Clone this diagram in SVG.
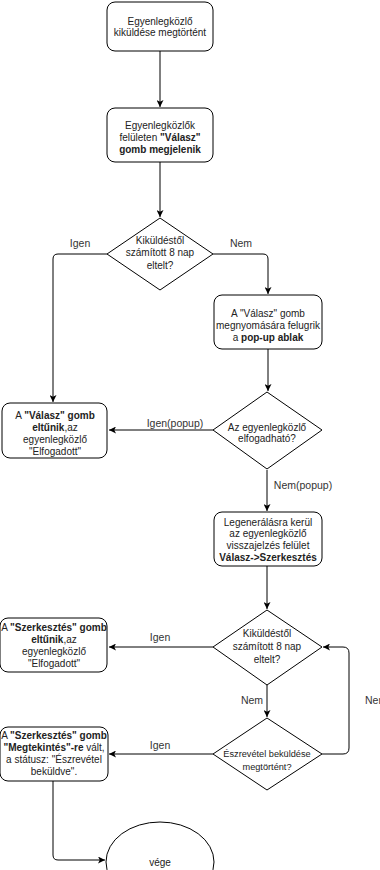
<svg xmlns="http://www.w3.org/2000/svg" width="380" height="870" viewBox="0 0 380 870">
<style>
.n{fill:#fff;stroke:#000;stroke-width:1}
.c{fill:none;stroke:#000;stroke-width:1}
text{font-family:"Liberation Sans",Arial,sans-serif;font-size:10px;fill:#222;text-anchor:middle}
.b{font-weight:bold}
.l{font-size:10.5px;fill:#333}
.s{font-size:9.2px}
</style>
<defs>
<marker id="a" viewBox="0 0 10 10" refX="10" refY="5" markerWidth="7" markerHeight="7" orient="auto" markerUnits="userSpaceOnUse">
<path d="M0,0 L10,5 L0,10 L2.5,5 Z" fill="#000"/>
</marker>
</defs>
<rect width="380" height="870" fill="#fff"/>
<g id="connectors">
<path class="c" d="M160,51 V107" marker-end="url(#a)"/>
<path class="c" d="M160,162 V217" marker-end="url(#a)"/>
<path class="c" d="M107,254 H58 Q53,254 53,259 V402" marker-end="url(#a)"/>
<path class="c" d="M213,254 H263 Q268,254 268,259 V294" marker-end="url(#a)"/>
<path class="c" d="M268,349 V391" marker-end="url(#a)"/>
<path class="c" d="M213,430 H109" marker-end="url(#a)"/>
<path class="c" d="M267,470 V511" marker-end="url(#a)"/>
<path class="c" d="M267,566 V609" marker-end="url(#a)"/>
<path class="c" d="M213,647 H109" marker-end="url(#a)"/>
<path class="c" d="M267,685 V717" marker-end="url(#a)"/>
<path class="c" d="M213,754 H109" marker-end="url(#a)"/>
<path class="c" d="M322,754 H343 Q349,754 349,748 V653 Q349,647 343,647 H323" marker-end="url(#a)"/>
<path class="c" d="M53,781 V855 Q53,860 58,860 H105" marker-end="url(#a)"/>
<text class="l" x="80" y="246.5">Igen</text>
<text class="l" x="241" y="246.5">Nem</text>
<text class="l" x="175" y="426.5">Igen(popup)</text>
<text class="l" x="303" y="489">Nem(popup)</text>
<text class="l" x="160" y="640.5">Igen</text>
<text class="l" x="252" y="703.5">Nem</text>
<text class="l" x="365" y="703.5" style="text-anchor:start">Nem</text>
<text class="l" x="160" y="748.5">Igen</text>
</g>
<g id="n1">
<rect class="n" x="107" y="2" width="106" height="49" rx="8"/>
<text x="160" y="24.5">Egyenlegközlő</text>
<text x="160" y="36">kiküldése megtörtént</text>
</g>
<g id="n2">
<rect class="n" x="107" y="108" width="106" height="54" rx="8"/>
<text x="160" y="128.5">Egyenlegközlők</text>
<text x="160" y="140.5">felületen <tspan class="b">"Válasz"</tspan></text>
<text x="160" y="152.5" class="b">gomb megjelenik</text>
</g>
<g id="d1">
<polygon class="n" points="160,218 213,254 160,290 107,254"/>
<text x="160" y="243.5">Kiküldéstől</text>
<text x="160" y="256">számított 8 nap</text>
<text x="160" y="268.5">eltelt?</text>
</g>
<g id="n3">
<rect class="n" x="214" y="295" width="108" height="54" rx="8"/>
<text x="268" y="316.5">A "Válasz" gomb</text>
<text x="268" y="328.5">megnyomására felugrik</text>
<text x="268" y="340.5">a <tspan class="b">pop-up ablak</tspan></text>
</g>
<g id="n4">
<rect class="n" x="2" y="403" width="105" height="55" rx="8"/>
<text x="55" y="418.5">A <tspan class="b">"Válasz" gomb</tspan></text>
<text x="55" y="430.5"><tspan class="b">eltűnik</tspan>,az</text>
<text x="55" y="442.5">egyenlegközlő</text>
<text x="55" y="454.5">"Elfogadott"</text>
</g>
<g id="d2">
<polygon class="n" points="267,392 322,430 267,469 213,430"/>
<text x="267" y="430.5">Az egyenlegközlő</text>
<text x="267" y="442">elfogadható?</text>
</g>
<g id="n5">
<rect class="n" x="214" y="512" width="108" height="54" rx="8"/>
<text x="268" y="525.5">Legenerálásra kerül</text>
<text x="268" y="537">az egyenlegközlő</text>
<text x="268" y="548.5">visszajelzés felület</text>
<text x="268" y="560.5" class="b">Válasz-&gt;Szerkesztés</text>
</g>
<g id="d3">
<polygon class="n" points="267,610 322,647 267,685 213,647"/>
<text x="267" y="636.5">Kiküldéstől</text>
<text x="267" y="649.5">számított 8 nap</text>
<text x="267" y="662.5">eltelt?</text>
</g>
<g id="n6">
<rect class="n" x="0" y="618" width="107" height="54" rx="8"/>
<text x="54" y="630.5">A <tspan class="b">"Szerkesztés" gomb</tspan></text>
<text x="54" y="642.5"><tspan class="b">eltűnik</tspan>,az</text>
<text x="54" y="654.5">egyenlegközlő</text>
<text x="54" y="666.5">"Elfogadott"</text>
</g>
<g id="d4">
<polygon class="n" points="267,718 322,754 267,790 213,754"/>
<text x="267" y="756.5" class="s">Észrevétel beküldése</text>
<text x="267" y="769.5" class="s">megtörtént?</text>
</g>
<g id="n7">
<rect class="n" x="0" y="727" width="108" height="54" rx="8"/>
<text x="54" y="738.5">A <tspan class="b">"Szerkesztés" gomb</tspan></text>
<text x="54" y="750.5"><tspan class="b">"Megtekintés"-re</tspan> vált,</text>
<text x="54" y="762.5">a státusz: "Észrevétel</text>
<text x="54" y="774.5">beküldve".</text>
</g>
<g id="n8">
<ellipse class="n" cx="160" cy="862" rx="54" ry="40"/>
<text x="160" y="865.5">vége</text>
</g>
</svg>
